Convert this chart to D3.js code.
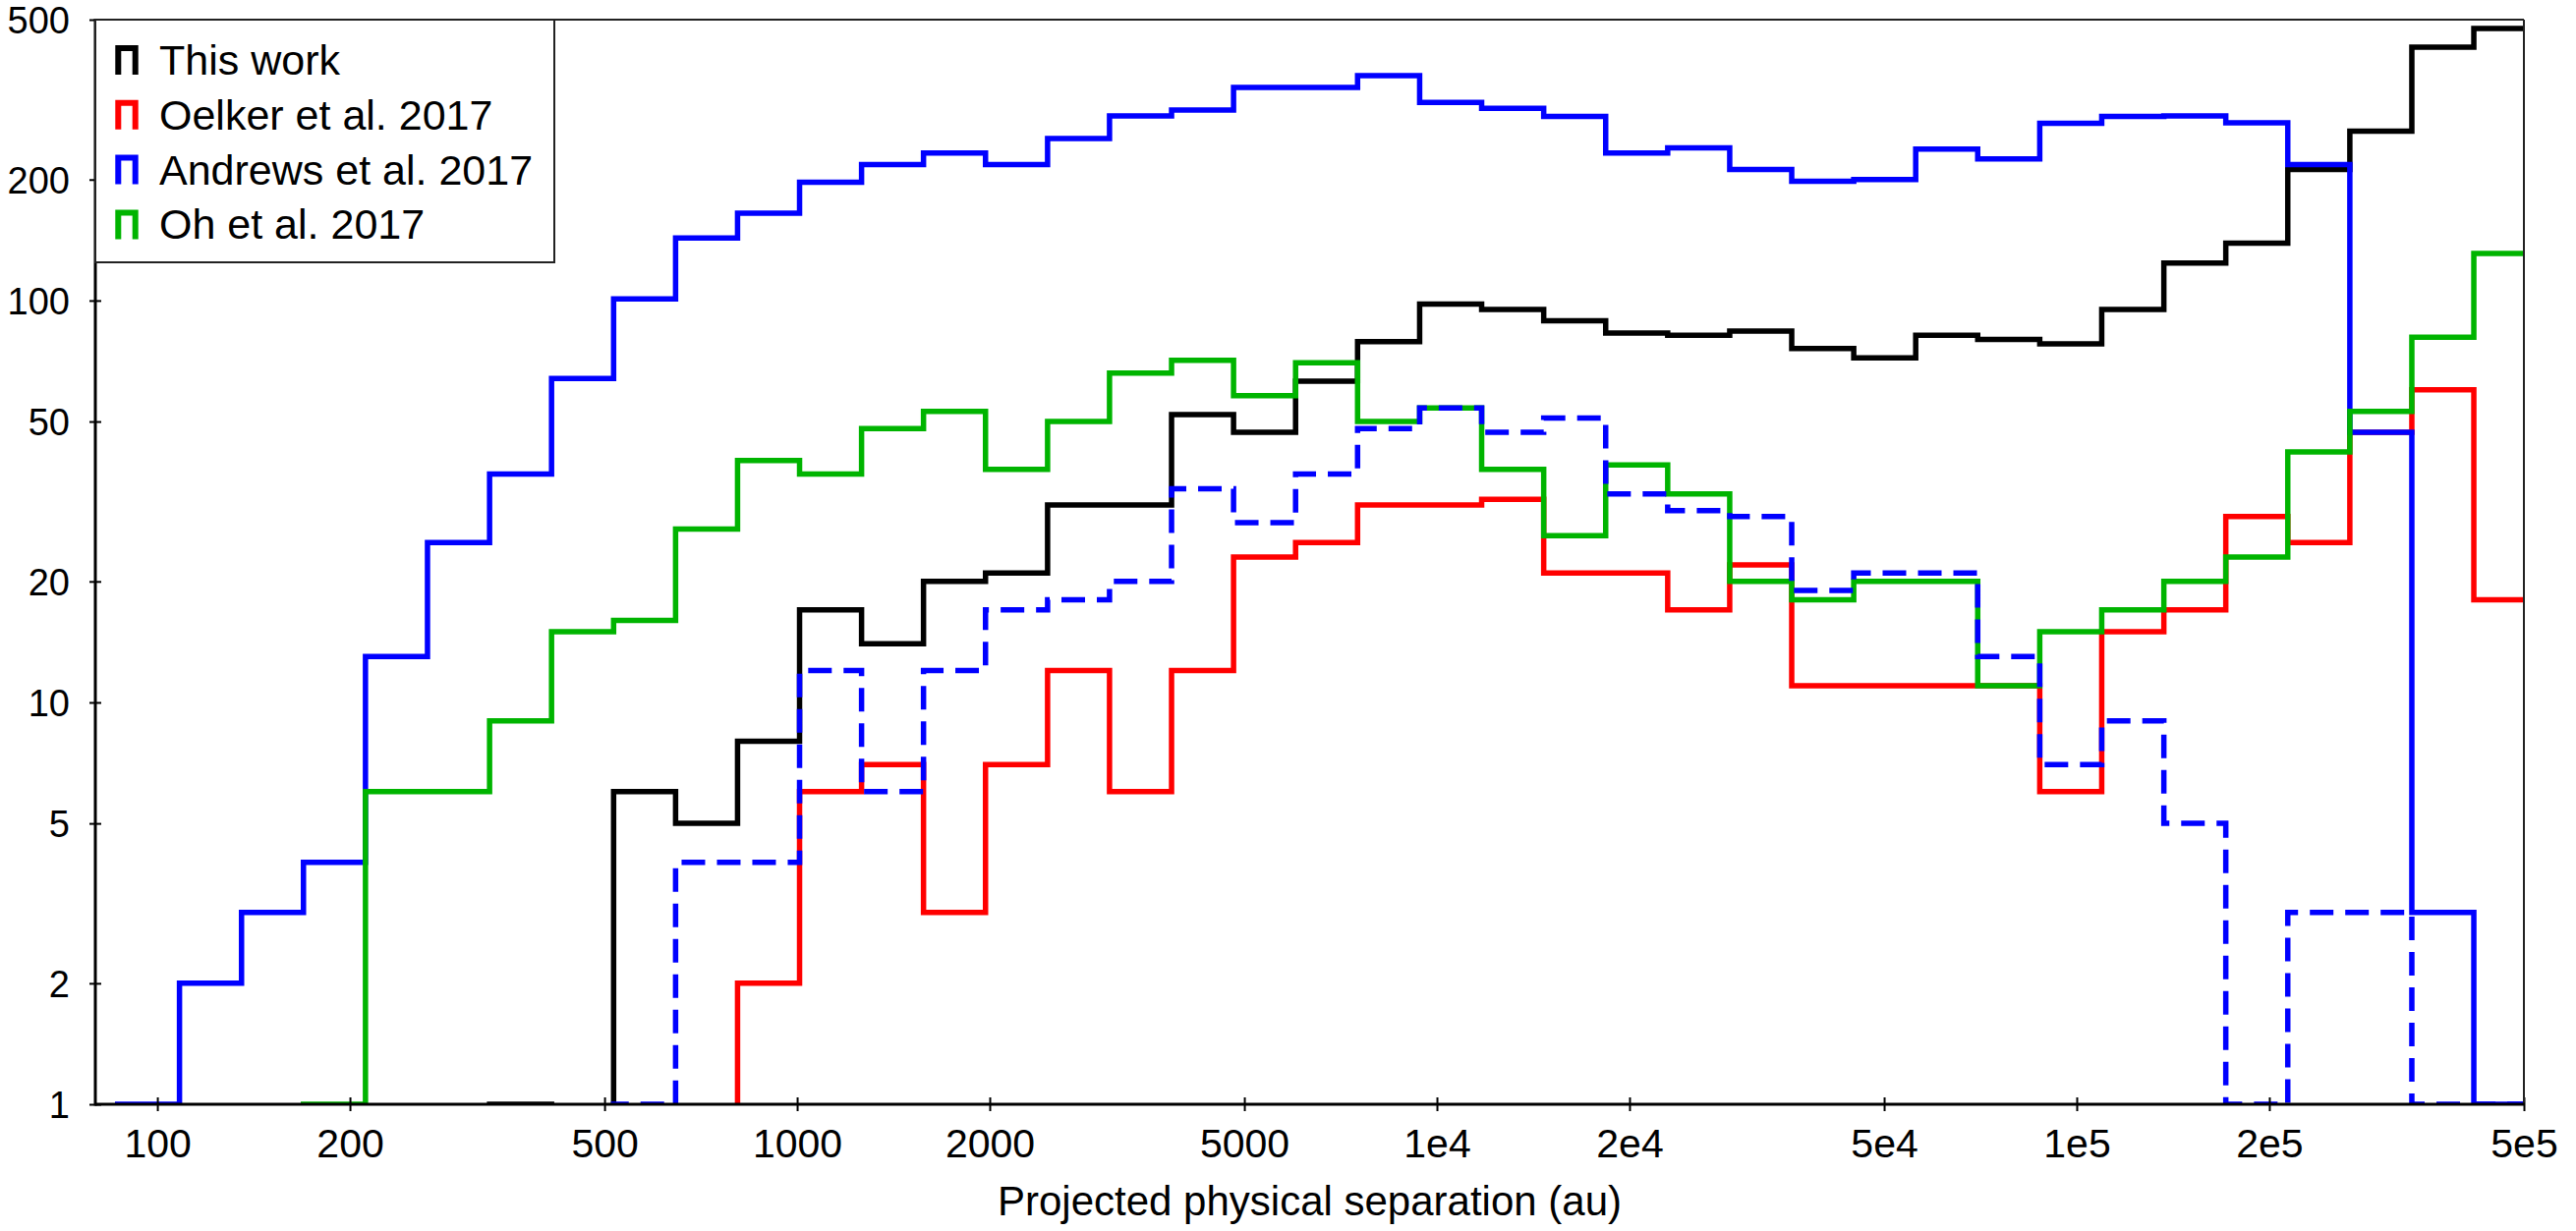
<!DOCTYPE html>
<html>
<head>
<meta charset="utf-8">
<script src="https://cdn.jsdelivr.net/npm/d3@7"></script>
<style>
  body { margin: 0; background: #fff; }
  text { font-family: "Liberation Sans", Arial, sans-serif; fill: #000; }
</style>
</head>
<body>
<svg id="chart" width="2621" height="1253"></svg>
<script>
// bin edges (au), log spaced ~0.097 dex
var edges = [86.7, 108.3, 135.4, 169.2, 211.5, 264.4, 330.6, 413.2, 516.6, 645.7,
  807.0, 1008.8, 1261, 1576, 1970, 2463, 3078, 3848, 4810, 6013,
  7516, 9397, 11746, 14686, 18356, 22946, 28683, 35855, 44822, 56023,
  70028, 87543, 109419, 136836, 171002, 213745, 267239, 334042, 417540, 521997];

// counts per bin
var thisWork = [0,0,0,0,0,0,1,0,6,5,8,17,14,20,21,31,31,52,47,63,79,98,95,89,83,82,84,76,72,82,80,78,95,124,139,212,264,427,475];
var oelker = [0,0,0,0,0,0,0,0,0,0,2,6,7,3,7,12,6,12,23,25,31,31,32,21,21,17,22,11,11,11,11,6,15,17,29,25,47,60,18];
var andrews = [1,2,3,4,13,25,37,64,101,143,165,197,218,233,218,253,288,298,339,339,363,311,301,287,233,240,212,198,200,238,225,276,287,288,277,218,47,3,1];
var andrewsSub = [0,0,0,0,0,0,0,0,1,4,4,12,6,12,17,18,20,34,28,37,48,54,47,51,33,30,29,19,21,21,13,7,9,5,1,3,3,1,1];
var oh = [0,0,0,1,6,6,9,15,16,27,40,37,48,53,38,50,66,71,58,70,50,54,38,26,39,33,20,18,20,20,11,15,17,20,23,42,53,81,131];

var xMajor = [100, 200, 500, 1000, 2000, 5000, 1e4, 2e4, 5e4, 1e5, 2e5, 5e5];
var xLabels = ["100", "200", "500", "1000", "2000", "5000", "1e4", "2e4", "5e4", "1e5", "2e5", "5e5"];
var yMajor = [1, 2, 5, 10, 20, 50, 100, 200, 500];
var yLabels = ["1", "2", "5", "10", "20", "50", "100", "200", "500"];

var legendNames = ["This work", "Oelker et al. 2017", "Andrews et al. 2017", "Oh et al. 2017"];
var legendColors = ["#000000", "#ff0000", "#0000ff", "#00b400"];

var svg = d3.select("#chart");
var pLeft = 97, pRight = 2568, pTop = 20, pBottom = 1124;

var x = d3.scaleLog().domain([80, 5e5]).range([pLeft, pRight]);
var y = d3.scaleLog().domain([1, 500]).range([pBottom, pTop]);

// minor ticks: 1.1..1.5, 2.5..4.5, 6..9 of each decade
function minorTicks(lo, hi) {
  var mult = [1.1, 1.2, 1.3, 1.4, 1.5, 2.5, 3, 3.5, 4, 4.5, 6, 7, 8, 9];
  var out = [];
  for (var p = -1; p <= 6; p++) {
    mult.forEach(function(m) {
      var v = m * Math.pow(10, p);
      if (v >= lo * 0.999 && v <= hi * 1.001) out.push(v);
    });
  }
  return out;
}

svg.append("rect").attr("width", 2621).attr("height", 1253).attr("fill", "#fff");

svg.append("clipPath").attr("id", "plotclip")
  .append("rect").attr("x", pLeft).attr("y", pTop)
  .attr("width", pRight - pLeft).attr("height", pBottom - pTop);

function stepPath(vals) {
  var yLow = pBottom + 80;
  var pts = [[x(edges[0]), yLow]];
  vals.forEach(function(v, i) {
    var yy = v > 0 ? y(v) : yLow;
    pts.push([x(edges[i]), yy]);
    pts.push([x(edges[i + 1]), yy]);
  });
  pts.push([x(edges[edges.length - 1]), yLow]);
  return d3.line()(pts);
}

var series = [
  {vals: thisWork, color: "#000000", dash: null},
  {vals: oelker, color: "#ff0000", dash: null},
  {vals: andrews, color: "#0000ff", dash: null},
  {vals: oh, color: "#00b400", dash: null},
  {vals: andrewsSub, color: "#0000ff", dash: "24,12"}
];

var plot = svg.append("g").attr("clip-path", "url(#plotclip)");
series.forEach(function(s) {
  plot.append("path")
    .attr("d", stepPath(s.vals))
    .attr("fill", "none")
    .attr("stroke", s.color)
    .attr("stroke-width", 5.5)
    .attr("stroke-linejoin", "miter")
    .attr("stroke-dasharray", s.dash);
});

// x axis
var gx = svg.append("g").attr("transform", "translate(0," + pBottom + ")");
gx.call(d3.axisBottom(x).tickValues(minorTicks(80, 5e5)).tickFormat("").tickSizeInner(-6).tickSizeOuter(0));
gx.call(d3.axisBottom(x).tickValues(xMajor).tickFormat(function(d, i) { return xLabels[i]; }).tickSizeOuter(0));
gx.selectAll(".domain").remove();
gx.selectAll(".tick line").attr("stroke", "#000").attr("stroke-width", 2);
gx.selectAll(".tick text")
  .filter(function() { return this.textContent !== ""; })
  .attr("y", 54).attr("dy", null)
  .style("font-size", "41px");
gx.selectAll(".tick")
  .filter(function(d) { return xMajor.indexOf(d) >= 0; })
  .select("line").attr("y1", -7).attr("y2", 7);

// y axis
var gy = svg.append("g").attr("transform", "translate(" + pLeft + ",0)");
gy.call(d3.axisLeft(y).tickValues(minorTicks(1, 500)).tickFormat("").tickSizeInner(-6).tickSizeOuter(0));
gy.call(d3.axisLeft(y).tickValues(yMajor).tickFormat(function(d, i) { return yLabels[i]; }).tickSizeOuter(0));
gy.selectAll(".domain").remove();
gy.selectAll(".tick line").attr("stroke", "#000").attr("stroke-width", 2);
gy.selectAll(".tick text")
  .filter(function() { return this.textContent !== ""; })
  .attr("x", -26).attr("dy", "0.35em")
  .style("font-size", "38px");
gy.selectAll(".tick")
  .filter(function(d) { return yMajor.indexOf(d) >= 0; })
  .select("line").attr("x1", -6).attr("x2", 6);

// frame
svg.append("line").attr("x1", pLeft).attr("x2", pRight).attr("y1", pTop).attr("y2", pTop)
  .attr("stroke", "#222").attr("stroke-width", 2);
svg.append("line").attr("x1", pRight).attr("x2", pRight).attr("y1", pTop).attr("y2", pBottom)
  .attr("stroke", "#222").attr("stroke-width", 2);
svg.append("line").attr("x1", pLeft).attr("x2", pRight + 1).attr("y1", pBottom).attr("y2", pBottom)
  .attr("stroke", "#000").attr("stroke-width", 3);
svg.append("line").attr("x1", pLeft).attr("x2", pLeft).attr("y1", pTop - 1).attr("y2", pBottom + 1.5)
  .attr("stroke", "#000").attr("stroke-width", 3);

// x title
svg.append("text")
  .attr("x", (pLeft + pRight) / 2).attr("y", 1237)
  .attr("text-anchor", "middle")
  .style("font-size", "42px")
  .text("Projected physical separation (au)");

// legend
var lg = svg.append("g");
lg.append("rect")
  .attr("x", pLeft).attr("y", pTop)
  .attr("width", 564 - pLeft).attr("height", 267 - pTop)
  .attr("fill", "#fff").attr("stroke", "#222").attr("stroke-width", 2);

legendNames.forEach(function(name, i) {
  var base = 76 + i * 55.8;
  lg.append("path")
    .attr("d", "M120.3," + base + "V" + (base - 27) + "H137.7V" + base)
    .attr("fill", "none")
    .attr("stroke", legendColors[i])
    .attr("stroke-width", 6)
    .attr("stroke-linejoin", "miter");
  lg.append("text")
    .attr("x", 162).attr("y", base)
    .style("font-size", "43px")
    .text(name);
});
</script>
</body>
</html>
